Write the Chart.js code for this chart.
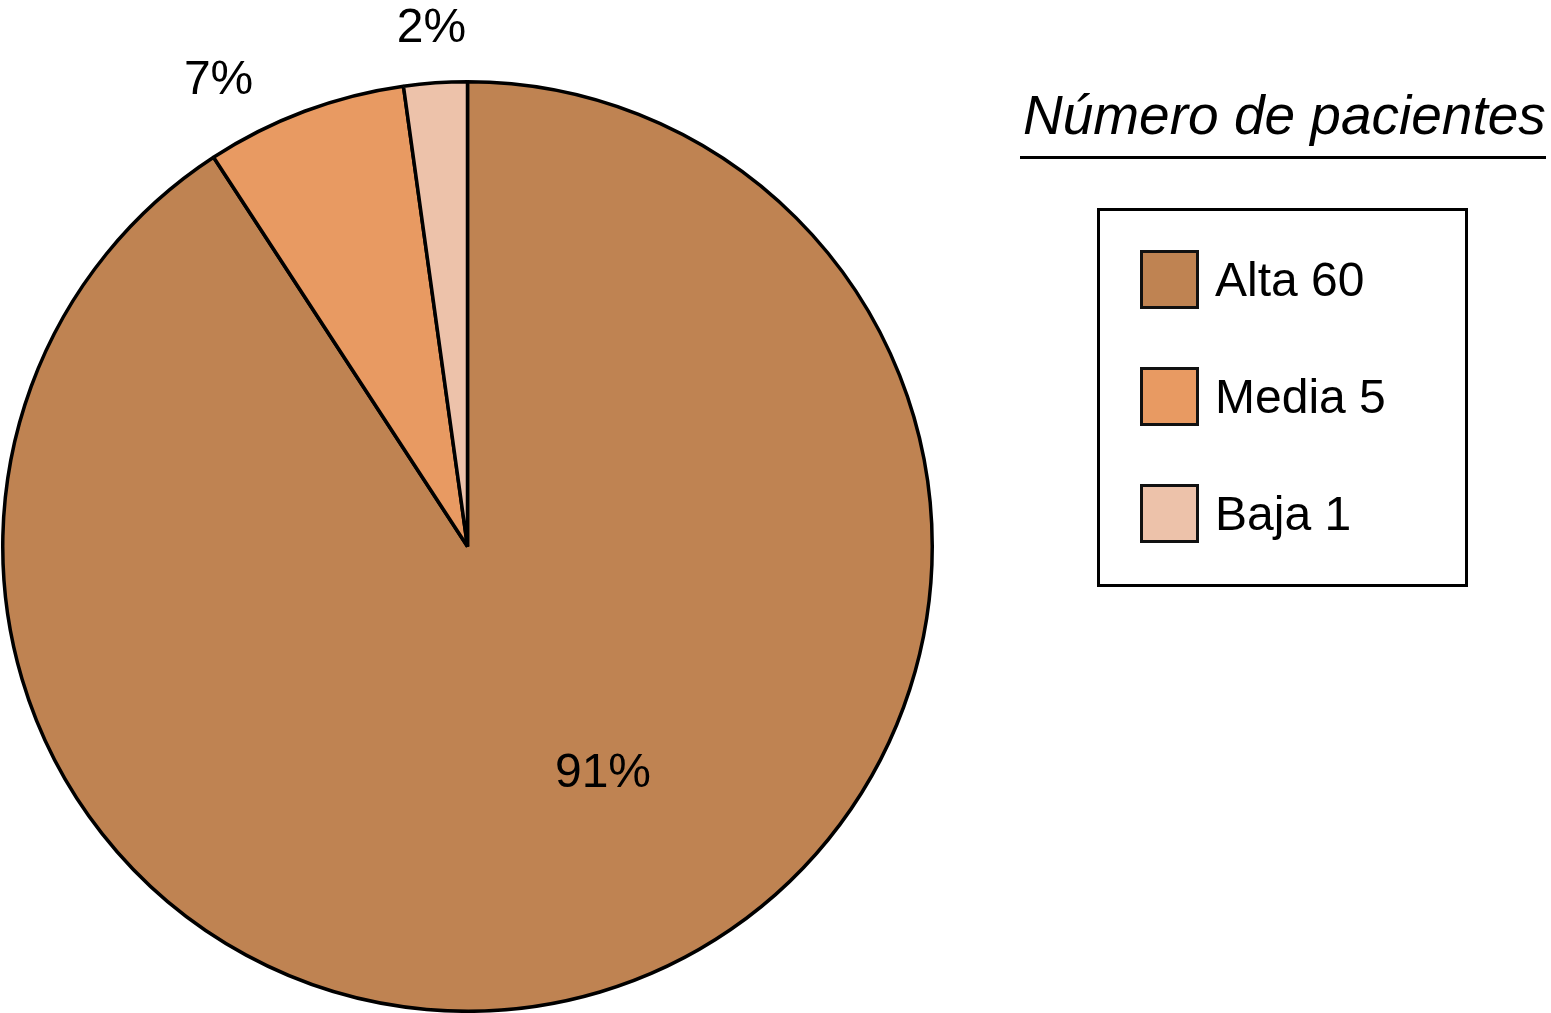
<!DOCTYPE html>
<html lang="es">
<head>
<meta charset="utf-8">
<title>Número de pacientes</title>
<script src="https://cdn.jsdelivr.net/npm/chart.js@4.4.1/dist/chart.umd.min.js"></script>
<style>
  html, body { margin: 0; padding: 0; background: #fff; }
  #wrap { position: relative; width: 1551px; height: 1013px; font-family: "Liberation Sans", Arial, sans-serif; }
  #wrap canvas { position: absolute; left: 0; top: 0; }
  #title {
    position: absolute; left: 1023px; top: 83px; width: 528px;
    font-style: italic; font-size: 55px; line-height: 64px; white-space: nowrap; color: #000;
  }
  #rule { position: absolute; left: 1020px; top: 156px; width: 526px; height: 3px; background: #000; }
  #legend {
    position: absolute; left: 1097px; top: 208px; width: 365px; height: 373px;
    border: 3px solid #000; box-sizing: content-box;
  }
  .item { position: absolute; left: 40px; height: 60px; display: flex; align-items: center; }
  .swatch { width: 53px; height: 53px; border: 3.5px solid #111; margin-right: 16px; }
  .item span { font-size: 48px; color: #000; white-space: nowrap; }
</style>
</head>
<body>
<div id="wrap">
  <canvas id="myChart" width="1551" height="1013"></canvas>
  <div id="title"></div>
  <div id="rule"></div>
  <div id="legend"></div>
</div>
<script>
// data
const categories = ["Alta", "Media", "Baja"];
const patients = [60, 5, 1];
const shares = [90.8, 7.0, 2.2];
const shareLabels = ["91%", "7%", "2%"];
const legendTitle = "Número de pacientes";

const colors = ["#bf8352", "#e89a62", "#edc2aa"];

// legend on the right, built from the arrays
document.getElementById("title").textContent = legendTitle;
const legend = document.getElementById("legend");
categories.forEach((c, i) => {
  const row = document.createElement("div");
  row.className = "item";
  row.style.top = (38 + i * 117) + "px";
  row.innerHTML = `<div class="swatch" style="background:${colors[i]}"></div><span>${c} ${patients[i]}</span>`;
  legend.appendChild(row);
});

// percent labels, placed relative to each arc
const sliceLabels = {
  id: "sliceLabels",
  afterDatasetsDraw(chart, args, opts) {
    const ctx = chart.ctx;
    const arcs = chart.getDatasetMeta(0).data;
    ctx.save();
    ctx.font = opts.font;
    ctx.fillStyle = "#000";
    ctx.textAlign = "center";
    ctx.textBaseline = "middle";
    arcs.forEach((arc, i) => {
      const p = arc.getProps(["x", "y", "startAngle", "endAngle", "outerRadius"], true);
      const place = opts.place[i];
      const a = (p.startAngle + p.endAngle) / 2 + place.shift * Math.PI / 180;
      const r = p.outerRadius * place.r;
      ctx.fillText(shareLabels[i], p.x + Math.cos(a) * r, p.y + Math.sin(a) * r + 2);
    });
    ctx.restore();
  },
};

const ctx = document.getElementById("myChart").getContext("2d");
const myChart = new Chart(ctx, {
  type: "pie",
  data: {
    labels: categories,
    datasets: [
      {
        data: shares,
        backgroundColor: colors,
        borderColor: "#000",
        borderWidth: 3.5,
      },
    ],
  },
  options: {
    responsive: false,
    animation: false,
    layout: { padding: { left: 1, top: 80, right: 617, bottom: 0 } },
    plugins: {
      legend: { display: false },
      tooltip: { enabled: false },
      sliceLabels: {
        font: '48px "Liberation Sans", Arial, sans-serif',
        place: [
          { r: 0.565, shift: -14.5 },
          { r: 1.14, shift: -7.5 },
          { r: 1.12, shift: 0 },
        ],
      },
    },
  },
  plugins: [sliceLabels],
});
</script>
</body>
</html>
